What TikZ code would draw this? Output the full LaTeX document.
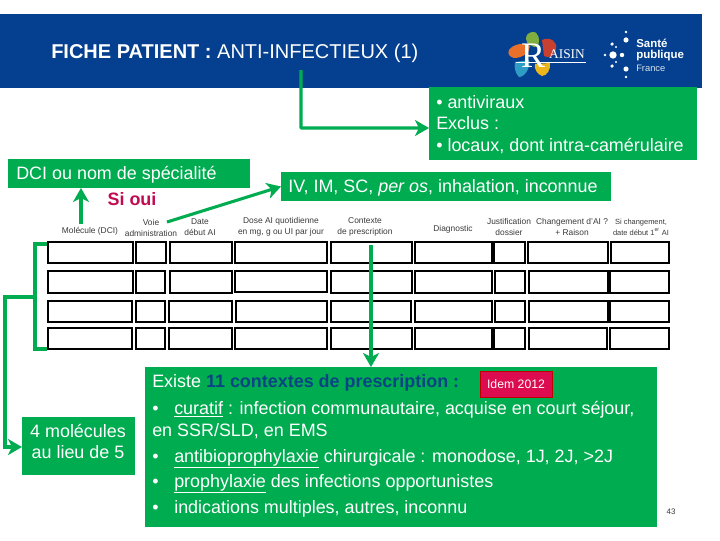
\documentclass[tikz,border=0pt]{standalone}
\usepackage{fontspec}
\setmainfont{Liberation Sans}
\newfontfamily\serifsc{Liberation Serif}
\usetikzlibrary{arrows.meta,calc}
\definecolor{navy}{HTML}{04408F}
\definecolor{grn}{HTML}{00AC50}
\definecolor{crim}{HTML}{C20A50}
\definecolor{pinkbox}{HTML}{DD0B50}
\definecolor{darkblue}{HTML}{0B4484}
\definecolor{hdr}{HTML}{3A3A3A}
\definecolor{petalg}{HTML}{7FAE3E}
\definecolor{petalr}{HTML}{C8402F}
\definecolor{petalo}{HTML}{E8702A}
\definecolor{petalb}{HTML}{2E9CC4}
\definecolor{petaly}{HTML}{EDB51C}
\tikzset{
 pxbox/.style={inner sep=0pt,outer sep=0pt},
 greenbox/.style={pxbox,fill=grn},
 cell/.style={pxbox,draw=black,line width=0.85pt},
 wtxt/.style={text=white,font=\fontsize{13.45}{15}\selectfont,anchor=base west,inner sep=0pt},
 hd/.style={text=hdr,font=\fontsize{6.3}{8.6}\selectfont,align=center,inner sep=0pt},
 conn/.style={draw=grn,line width=2.3pt,-{Stealth[length=10.5pt,width=12pt,inset=3pt]}},
 plainconn/.style={draw=grn,line width=2.3pt},
 dot/.style={circle,fill=white,inner sep=0pt},
}
\newcommand{\bx}[7]{%
 \pgfmathsetmacro{\bxcx}{(#3+#5)/2}\pgfmathsetmacro{\bxcy}{(#4+#6)/2}%
 \pgfmathsetmacro{\bxw}{(#5-#3)*0.75}\pgfmathsetmacro{\bxh}{(#6-#4)*0.75}%
 \node[#2,minimum width=\bxw pt,minimum height=\bxh pt] (#1) at (\bxcx,\bxcy) {#7};%
}
\begin{document}
\begin{tikzpicture}[x=0.75pt,y=-0.75pt]
\useasboundingbox (0,0) rectangle (720,540);
\fill[white] (0,0) rectangle (720,540);
% banner
\bx{banner}{pxbox,fill=navy}{0}{14}{702}{88}{}
\node[anchor=base west,inner sep=0pt,text=white,font=\fontsize{15}{17}\selectfont] (title) at (51,58) {\textbf{FICHE PATIENT :} ANTI-INFECTIEUX (1)};
% raisin logo
\fill[petalg] (532,32) .. controls (539,31) and (540,40) .. (538,47) .. controls (533,48) and (526,44) .. (526,39) .. controls (526,35) and (528,33) .. (532,32) -- cycle;
\fill[petalr] (542,40) .. controls (550,36) and (558,42) .. (556,49) .. controls (555,56) and (549,59) .. (544,56) -- cycle;
\fill[petalo] (509,50) .. controls (513,44) and (524,42) .. (530,46) .. controls (530,53) and (522,58) .. (514,58) .. controls (510,57) and (507,54) .. (509,50) -- cycle;
\fill[petalb] (515,62) -- (529,60) .. controls (531,67) and (525,77) .. (519,77) .. controls (515,73) and (514,67) .. (515,62) -- cycle;
\fill[petaly] (535,64) -- (550,63) .. controls (551,69) and (547,76) .. (542,76) .. controls (537,74) and (534,69) .. (535,64) -- cycle;
\node[inner sep=0pt,text=white,font=\serifsc\fontsize{27}{27}\selectfont] (logoR) at (533,56) {R};
\node[inner sep=0pt,text=white,font=\serifsc\fontsize{10}{10}\selectfont] (logoA) at (567,54) {AISIN};
\draw[white,line width=0.7pt] (516,62) -- (586,62);
% sante publique france
\node[dot,minimum size=5.5pt] (d0) at (613,55) {};
\foreach \px/\py/\ps in {605/55/1.8,622/55/3,626/38/1,626/40/3.5,612/44/2.4,616/47/1.5,612/66/2.4,616/62/1.5,626/69/3.5,626/77/1.8,626/32/1.8}
  \fill[white] (\px,\py) circle[radius=\ps*0.55pt];
\node[anchor=base west,inner sep=0pt,text=white,font=\bfseries\fontsize{8.6}{8}\selectfont] (sante) at (636,47) {Santé};
\node[anchor=base west,inner sep=0pt,text=white,font=\bfseries\fontsize{8.6}{8}\selectfont] (publique) at (636,58) {publique};
\node[anchor=base west,inner sep=0pt,text=white!85!navy,font=\fontsize{7}{7}\selectfont] (france) at (636,71) {France};
% antiviraux box
\bx{anti}{greenbox}{429}{87}{697}{160}{}
\node[wtxt] (t1) at (436,108) {\textbullet\ antiviraux};
\node[wtxt] (t2) at (436,129) {Exclus :};
\node[wtxt] (t3) at (436,151) {\textbullet\ locaux, dont intra-camérulaire};
\coordinate (titleFoot) at (301,70);
\coordinate (antiIn) at (429,128);
\draw[conn,rounded corners=0.5pt] (titleFoot) |- (antiIn);
% DCI
\bx{dci}{greenbox}{8}{159}{250}{188}{}
\node[wtxt] (dcit) at (16,179) {DCI ou nom de spécialité};
\node[anchor=base,inner sep=0pt,text=crim,font=\bfseries\fontsize{13.45}{15}\selectfont] (sioui) at (132,205) {Si oui};
% IV
\bx{iv}{greenbox}{281}{172}{611}{201}{}
\node[wtxt] (ivt) at (288,192) {IV, IM, SC, \textit{per os}, inhalation, inconnue};
% headers
\node[hd] (h1) at (90,231) {Molécule (DCI)};
\node[hd] (h2) at (151,228) {Voie\\administration};
\node[hd] (h3) at (200,227) {Date\\début AI};
\node[hd] (h4) at (281,227) {Dose AI quotidienne\\en mg, g ou UI par jour};
\node[hd] (h5) at (365,227) {Contexte\\de prescription};
\node[hd] (h6) at (453,229) {Diagnostic};
\node[hd] (h7) at (509,227) {Justification\\dossier};
\node[hd] (h8) at (572,227) {Changement d'AI ?\\+ Raison};
\node[hd,font=\fontsize{5.6}{8.4}\selectfont] (h9) at (641,227) {Si changement,\\date début 1\textsuperscript{er} AI};
% table
\bx{c11}{cell}{48}{242}{133}{263}{}\bx{c12}{cell}{136}{242}{166}{263}{}\bx{c13}{cell}{170}{242}{232}{263}{}\bx{c14}{cell}{235}{242}{327}{263}{}\bx{c15}{cell}{331}{242}{412}{263}{}\bx{c16}{cell}{415}{242}{492}{263}{}\bx{c17}{cell}{494}{242}{525}{263}{}\bx{c18}{cell}{528}{242}{608}{263}{}\bx{c19}{cell}{611}{242}{669}{263}{}
\bx{c21}{cell}{48}{271}{133}{293}{}\bx{c22}{cell}{136}{271}{165}{293}{}\bx{c23}{cell}{170}{271}{232}{293}{}\bx{c24}{cell}{235}{271}{327}{292}{}\bx{c25}{cell}{331}{271}{412}{293}{}\bx{c26}{cell}{415}{271}{492}{293}{}\bx{c27}{cell}{495}{271}{525}{293}{}\bx{c28}{cell}{529}{271}{608}{293}{}\bx{c29}{cell}{610}{271}{669}{293}{}
\bx{c31}{cell}{48}{301}{132}{322}{}\bx{c32}{cell}{136}{301}{165}{322}{}\bx{c33}{cell}{169}{301}{232}{322}{}\bx{c34}{cell}{236}{301}{327}{322}{}\bx{c35}{cell}{331}{301}{411}{322}{}\bx{c36}{cell}{415}{301}{492}{322}{}\bx{c37}{cell}{495}{301}{525}{322}{}\bx{c38}{cell}{529}{301}{608}{322}{}\bx{c39}{cell}{610}{301}{669}{322}{}
\bx{c41}{cell}{48}{328}{132}{349}{}\bx{c42}{cell}{136}{328}{165}{349}{}\bx{c43}{cell}{169}{328}{232}{349}{}\bx{c44}{cell}{235}{328}{327}{349}{}\bx{c45}{cell}{331}{328}{412}{349}{}\bx{c46}{cell}{415}{328}{492}{349}{}\bx{c47}{cell}{494}{328}{525}{349}{}\bx{c48}{cell}{529}{328}{607}{349}{}\bx{c49}{cell}{610}{328}{669}{349}{}
% molecules box
\bx{mol}{greenbox}{22}{417}{135}{475}{}
\node[wtxt,anchor=base] (m1) at (78,437) {4 molécules};
\node[wtxt,anchor=base] (m2) at (78,458) {au lieu de 5};
% big box
\bx{big}{greenbox}{145}{367}{657}{527}{}
\bx{idem}{pxbox,fill=pinkbox,draw=red!75!black,line width=0.5pt}{480}{371}{552}{397}{\textcolor{white}{\fontsize{9.2}{11}\selectfont Idem 2012}}
\node[wtxt] (b1) at (152,387) {Existe \textcolor{darkblue}{\textbf{11 contextes de prescription :}}};
\node[wtxt] (b2) at (152,414) {\textbullet};
\node[wtxt] (b2a) at (174,414) {\underline{curatif} : infection communautaire, acquise en court séjour,};
\node[wtxt] (b3) at (152,436) {en SSR/SLD, en EMS};
\node[wtxt] (b4) at (152,462) {\textbullet};
\node[wtxt] (b4a) at (174,462) {\underline{antibioprophylaxie} chirurgicale : monodose, 1J, 2J, >2J};
\node[wtxt] (b5) at (152,487) {\textbullet};
\node[wtxt] (b5a) at (174,487) {\underline{prophylaxie} des infections opportunistes};
\node[wtxt] (b6) at (152,513) {\textbullet};
\node[wtxt] (b6a) at (174,513) {indications multiples, autres, inconnu};
\node[inner sep=0pt,text=hdr,font=\fontsize{6}{7}\selectfont] (pg) at (671,512) {43};
% connectors
\coordinate (up) at (81,224);
\draw[conn] (up) -- (up |- dci.south);
\coordinate (vstart) at (167,222);
\draw[conn] (vstart) -- (iv.west);
\coordinate (ctx) at (371,245);
\draw[conn] (ctx) -- (ctx |- big.north);
% bracket
\coordinate (bt) at (47,244);
\coordinate (bb) at (47,349);
\coordinate (bmid) at (35,297);
\coordinate (bleft) at (5,297);
\coordinate (molin) at (22,447);
\draw[plainconn,line cap=butt] (bt) -- (35,244) -- (35,349) -- (bb);
\draw[conn] (bmid) -- (bleft) -- (bleft |- molin) -- (molin);
\end{tikzpicture}
\end{document}
